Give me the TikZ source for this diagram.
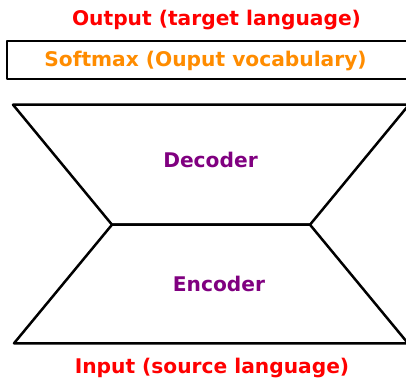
\documentclass[tikz,border=0pt]{standalone}
\usepackage{fontspec}
\setmainfont{DejaVu Sans}
\usepackage{tikz}
\usetikzlibrary{calc, positioning}

\definecolor{outred}{RGB}{255,0,0}
\definecolor{softorange}{RGB}{255,140,0}
\definecolor{blockpurple}{RGB}{128,0,128}

\begin{document}
\begin{tikzpicture}[x=1pt, y=-1pt, line width=2.5pt, line join=round,
        label/.style={anchor=base, font=\fontsize{20.2}{24}\selectfont\bfseries, inner sep=0pt},
        block/.style={draw=black}]
                \useasboundingbox (0,0) rectangle (406,378);

                % Output and softmax layer
                \node[label, text=outred] (out) at (216.5,25) {Output (target language)};
                \draw[block] (7,41) rectangle (415,79);
                \node[label, text=softorange] (soft) at (205.5,66.7) {Softmax (Ouput vocabulary)};

                % Corners of the two blocks
                \coordinate (dtl) at (13,104.7);
                \coordinate (dtr) at (409,104.7);
                \coordinate (ml) at (112,224.7);
                \coordinate (mr) at (310,224.7);
                \coordinate (ebl) at (14,343.3);
                \coordinate (ebr) at (408,343.3);

                % Decoder
                \draw[block] (dtl) -- (dtr) -- (mr) -- (ml) -- cycle;
                \node[label, text=blockpurple] (dec) at (210.5,167.7) {Decoder};

                % Encoder
                \draw[block] (ml) -- (mr) -- (ebr) -- (ebl) -- cycle;
                \node[label, text=blockpurple] (enc) at (219,291.7) {Encoder};

                % Input
                \node[label, text=outred] (in) at (212,373.3) {Input (source language)};
            \end{tikzpicture}
\end{document}
